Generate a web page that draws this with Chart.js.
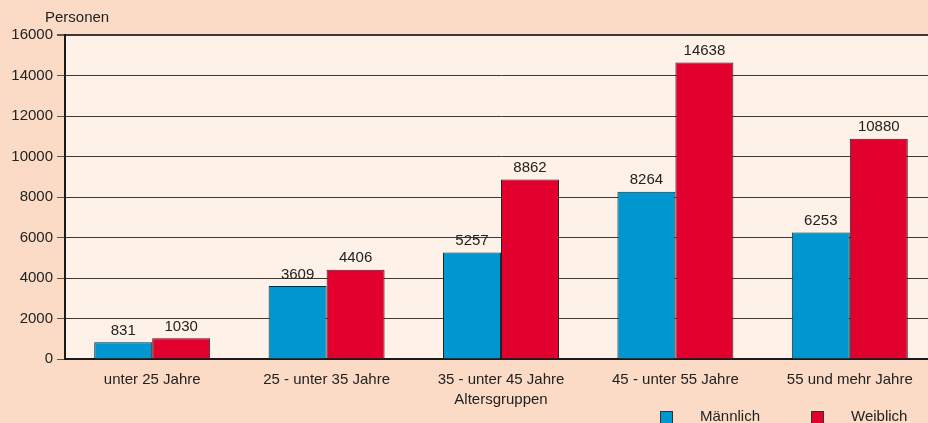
<!DOCTYPE html>
<html>
<head>
<meta charset="utf-8">
<script src="https://cdn.jsdelivr.net/npm/chart.js@4"></script>
<style>
  html, body { margin: 0; padding: 0; background: #fbdbc5; overflow: hidden; }
  /* plot runs a bit past the right edge, as in the original */
  #wrap { width: 937px; height: 423px; position: relative; }
</style>
</head>
<body>
<div id="wrap"><canvas id="myChart"></canvas></div>
<script>
const labels = [
  'unter 25 Jahre',
  '25 - unter 35 Jahre',
  '35 - unter 45 Jahre',
  '45 - unter 55 Jahre',
  '55 und mehr Jahre',
];
const maennlich = [831, 3609, 5257, 8264, 6253];
const weiblich = [1030, 4406, 8862, 14638, 10880];

const font = { family: "'Liberation Sans', Arial, sans-serif", size: 15 };

// plot area fill + extra texts + values above bars + legend
const extras = {
  id: 'extras',
  beforeDraw(chart) {
    const { ctx, chartArea: a } = chart;
    ctx.save();
    ctx.fillStyle = '#fdf1e8';
    ctx.fillRect(a.left, a.top, a.right - a.left, a.bottom - a.top);
    ctx.restore();
  },
  afterDraw(chart) {
    const { ctx } = chart;
    ctx.save();
    ctx.font = '15px ' + font.family;
    ctx.fillStyle = '#222';
    ctx.textAlign = 'left';
    ctx.textBaseline = 'middle';
    ctx.fillText('Personen', 45, 18);

    ctx.textAlign = 'center';
    ctx.textBaseline = 'bottom';
    chart.data.datasets.forEach((ds, i) => {
      chart.getDatasetMeta(i).data.forEach((bar, j) => {
        ctx.fillText(ds.data[j], bar.x, bar.y - 4);
      });
    });

    // legend
    const boxX = [660, 811];
    ctx.textAlign = 'left';
    ctx.textBaseline = 'middle';
    chart.data.datasets.forEach((ds, i) => {
      ctx.fillStyle = ds.backgroundColor;
      ctx.fillRect(boxX[i], 411, 13, 14);
      ctx.strokeStyle = '#333';
      ctx.lineWidth = 1;
      ctx.strokeRect(boxX[i] + 0.5, 411.5, 12, 14);
      ctx.fillStyle = '#222';
      ctx.fillText(ds.label, boxX[i] + 40, 417);
    });
    ctx.restore();
  }
};

const data = {
  labels: labels,
  datasets: [{
    label: 'Männlich',
    backgroundColor: '#0096cf',
    borderColor: '#222',
    borderWidth: 1,
    data: maennlich,
  }, {
    label: 'Weiblich',
    backgroundColor: '#e2002f',
    borderColor: '#222',
    borderWidth: 1,
    data: weiblich,
  }]
};

const config = {
  type: 'bar',
  data: data,
  plugins: [extras],
  options: {
    responsive: true,
    maintainAspectRatio: false,
    animation: false,
    layout: { padding: { top: 35, right: 0, bottom: 10, left: 0 } },
    categoryPercentage: 0.665,
    barPercentage: 1,
    plugins: {
      legend: { display: false },
      tooltip: { enabled: false },
    },
    scales: {
      x: {
        grid: { display: false, drawTicks: false },
        border: { color: '#1a1a1a', width: 2 },
        ticks: { color: '#222', font: font, padding: 12 },
        title: { display: true, text: 'Altersgruppen', color: '#222', font: font, padding: { top: 4, bottom: 4 } },
        afterFit(scale) { scale.height = 54; },
      },
      y: {
        min: 0,
        max: 16000,
        ticks: {
          stepSize: 2000, color: '#222', font: font, padding: 4,
          callback: (v) => String(v),
        },
        grid: {
          color: '#3a3a3a',
          lineWidth: (c) => (c.tick && c.tick.value === 16000 ? 2 : 1),
          tickLength: 8,
          tickColor: '#555',
        },
        border: { color: '#1a1a1a', width: 2 },
        afterFit(scale) { scale.width = 65; },
      }
    }
  }
};

const myChart = new Chart(
  document.getElementById('myChart'),
  config
);
</script>
</body>
</html>
